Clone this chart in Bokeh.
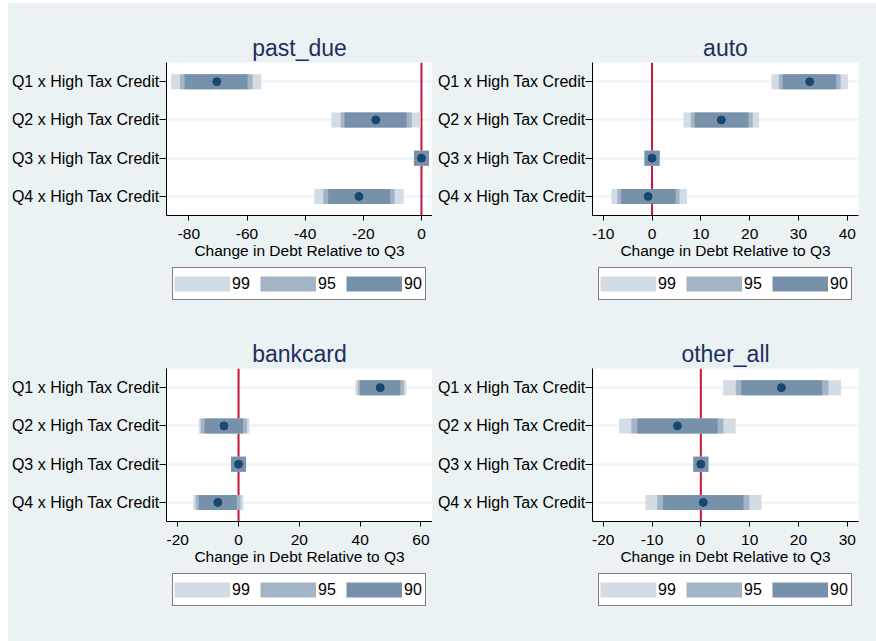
from bokeh.plotting import figure
from bokeh.models import (Range1d, FactorRange, FixedTicker, Span, Legend,
                          LegendItem, ColumnDataSource)
from bokeh.layouts import row, column
from bokeh.embed import file_html
from bokeh.resources import INLINE

# ---------------- data ----------------
categories = ["Q1 x High Tax Credit", "Q2 x High Tax Credit",
              "Q3 x High Tax Credit", "Q4 x High Tax Credit"]
panel_names = ["past_due", "auto", "bankcard", "other_all"]

past_due_pt = [-70.4, -15.7, 0.0, -21.5]
past_due_lo99 = [-83.5, -28.4, 0.0, -34.3]
past_due_hi99 = [-57.7, -2.9, 0.0, -8.7]
past_due_lo95 = [-80.5, -25.2, 0.0, -31.2]
past_due_hi95 = [-60.7, -5.9, 0.0, -11.8]
past_due_lo90 = [-78.9, -23.9, 0.0, -29.5]
past_due_hi90 = [-62.4, -7.7, 0.0, -13.3]

auto_pt = [32.3, 14.2, 0.0, -0.8]
auto_lo99 = [26.0, 8.0, 0.0, -6.8]
auto_hi99 = [38.6, 20.4, 0.0, 5.6]
auto_lo95 = [27.5, 9.5, 0.0, -5.6]
auto_hi95 = [37.1, 19.1, 0.0, 4.1]
auto_lo90 = [28.3, 10.3, 0.0, -4.8]
auto_hi90 = [36.2, 18.2, 0.0, 3.3]

bankcard_pt = [46.6, -4.8, 0.0, -6.8]
bankcard_lo99 = [40.9, -10.6, 0.0, -12.4]
bankcard_hi99 = [52.7, 1.1, 0.0, -0.9]
bankcard_lo95 = [41.7, -10.0, 0.0, -11.6]
bankcard_hi95 = [51.9, 0.3, 0.0, -1.8]
bankcard_lo90 = [42.4, -8.7, 0.0, -10.6]
bankcard_hi90 = [50.7, -1.0, 0.0, -3.0]

other_all_pt = [16.5, -4.8, 0.0, 0.5]
other_all_lo99 = [6.1, -15.2, 0.0, -9.8]
other_all_hi99 = [27.2, 5.6, 0.0, 10.9]
other_all_lo95 = [8.7, -12.7, 0.0, -7.4]
other_all_hi95 = [24.6, 3.1, 0.0, 8.4]
other_all_lo90 = [9.8, -11.5, 0.0, -6.2]
other_all_hi90 = [23.3, 1.9, 0.0, 7.2]

x_ranges = {"past_due": (-87.7, 3.8), "auto": (-12.2, 42.3),
            "bankcard": (-23.7, 63.8), "other_all": (-22.2, 32.3)}
x_ticks = {"past_due": [-80, -60, -40, -20, 0],
           "auto": [-10, 0, 10, 20, 30, 40],
           "bankcard": [-20, 0, 20, 40, 60],
           "other_all": [-20, -10, 0, 10, 20, 30]}
legend_labels = ["99", "95", "90"]
x_title = "Change in Debt Relative to Q3"

data = {
    "past_due": (past_due_pt, past_due_lo99, past_due_hi99, past_due_lo95,
                 past_due_hi95, past_due_lo90, past_due_hi90),
    "auto": (auto_pt, auto_lo99, auto_hi99, auto_lo95, auto_hi95,
             auto_lo90, auto_hi90),
    "bankcard": (bankcard_pt, bankcard_lo99, bankcard_hi99, bankcard_lo95,
                 bankcard_hi95, bankcard_lo90, bankcard_hi90),
    "other_all": (other_all_pt, other_all_lo99, other_all_hi99,
                  other_all_lo95, other_all_hi95, other_all_lo90,
                  other_all_hi90),
}

# ---------------- style ----------------
BG = "#EAF2F3"
C99 = "#D3DBE4"
C95 = "#A3B4C5"
C90 = "#7891AA"
CPT = "#1A476F"
CRED = "#C8143C"
CTITLE = "#1E2F5E"
FONT = "Liberation Sans"
CI_COLORS = [C99, C95, C90]
NAN = float("nan")


def make_panel(name, left_col, top_row):
    pt, lo99, hi99, lo95, hi95, lo90, hi90 = data[name]
    src = ColumnDataSource(dict(cat=categories, pt=pt, lo99=lo99, hi99=hi99,
                                lo95=lo95, hi95=hi95, lo90=lo90, hi90=hi90))
    mb_left = 157 if left_col else 160
    mb_right = 0 if left_col else 19
    mb_top = 59 if top_row else 51
    p = figure(frame_width=266, frame_height=153,
               x_range=Range1d(*x_ranges[name]),
               y_range=FactorRange(factors=categories[::-1], range_padding=0),
               output_backend="svg", toolbar_location=None,
               min_border_left=mb_left, min_border_right=mb_right,
               min_border_top=mb_top, min_border_bottom=50)
    p.background_fill_color = "white"
    p.border_fill_color = BG
    p.outline_line_color = None

    p.title.text = name
    p.title.align = "center"
    p.title.text_font = FONT
    p.title.text_font_size = "23px"
    p.title.text_font_style = "normal"
    p.title.text_color = CTITLE
    p.title.standoff = 4

    p.xgrid.visible = False
    p.ygrid.grid_line_color = BG
    p.ygrid.grid_line_width = 2

    p.add_layout(Span(location=0, dimension="height", line_color=CRED,
                      line_width=2, level="underlay"))

    for lo, hi, col in [("lo99", "hi99", C99), ("lo95", "hi95", C95),
                        ("lo90", "hi90", C90)]:
        p.segment(x0=lo, x1=hi, y0="cat", y1="cat", source=src,
                  line_width=15, line_color=col, line_cap="square")
    p.scatter(x="pt", y="cat", source=src, size=8, fill_color=CPT,
              line_color=CPT)

    ticks = x_ticks[name]
    xa = p.xaxis[0]
    xa.ticker = FixedTicker(ticks=ticks)
    xa.major_label_overrides = {t: str(t) for t in ticks}
    xa.axis_label = x_title
    xa.axis_label_text_font = FONT
    xa.axis_label_text_font_size = "15.5px"
    xa.axis_label_text_font_style = "normal"
    xa.axis_label_text_color = "black"
    xa.axis_label_standoff = 0
    xa.major_label_text_font = FONT
    xa.major_label_text_font_size = "15.5px"
    xa.major_label_text_color = "black"
    xa.major_label_standoff = 8
    xa.major_tick_out = 5
    xa.major_tick_in = 0
    xa.minor_tick_out = 0
    xa.minor_tick_in = 0
    xa.axis_line_color = "black"
    xa.major_tick_line_color = "black"

    ya = p.yaxis[0]
    ya.major_label_text_font = FONT
    ya.major_label_text_font_size = "16px"
    ya.major_label_text_color = "black"
    ya.major_label_standoff = 0
    ya.major_tick_out = 7
    ya.major_tick_in = 0
    ya.axis_line_color = "black"
    ya.major_tick_line_color = "black"

    # legend strip below the panel
    lw = mb_left + 266 + mb_right
    lh = 52 if top_row else 70
    lf = figure(width=lw, height=lh, x_range=Range1d(0, 1),
                y_range=Range1d(0, 1), output_backend="svg",
                toolbar_location=None, min_border=0)
    lf.axis.visible = False
    lf.grid.visible = False
    lf.outline_line_color = None
    lf.background_fill_color = BG
    lf.border_fill_color = BG
    rs = []
    for col in CI_COLORS:
        rs.append(lf.segment(x0=[NAN], x1=[NAN], y0=[NAN], y1=[NAN],
                             line_width=15, line_color=col,
                             line_cap="butt"))
    items = [LegendItem(label=lab, renderers=[r])
             for lab, r in zip(legend_labels, rs)]
    leg = Legend(items=items, orientation="horizontal",
                 location=(6, 17 if top_row else 35),
                 glyph_width=56, glyph_height=29, label_standoff=2,
                 label_width=20, label_height=29, spacing=8, padding=1,
                 margin=0, border_line_color="black", border_line_width=1.5,
                 background_fill_color="white", background_fill_alpha=1.0,
                 label_text_font=FONT, label_text_font_size="16px",
                 label_text_color="black")
    lf.add_layout(leg, "center")
    return column(p, lf, spacing=0)


p1 = make_panel("past_due", True, True)
p2 = make_panel("auto", False, True)
p3 = make_panel("bankcard", True, False)
p4 = make_panel("other_all", False, False)

layout = column(row(p1, p2, spacing=0), row(p3, p4, spacing=0), spacing=0,
                margin=(3, 0, 0, 8), styles={"background-color": BG})

open("out.html", "w").write(file_html(layout, INLINE))
